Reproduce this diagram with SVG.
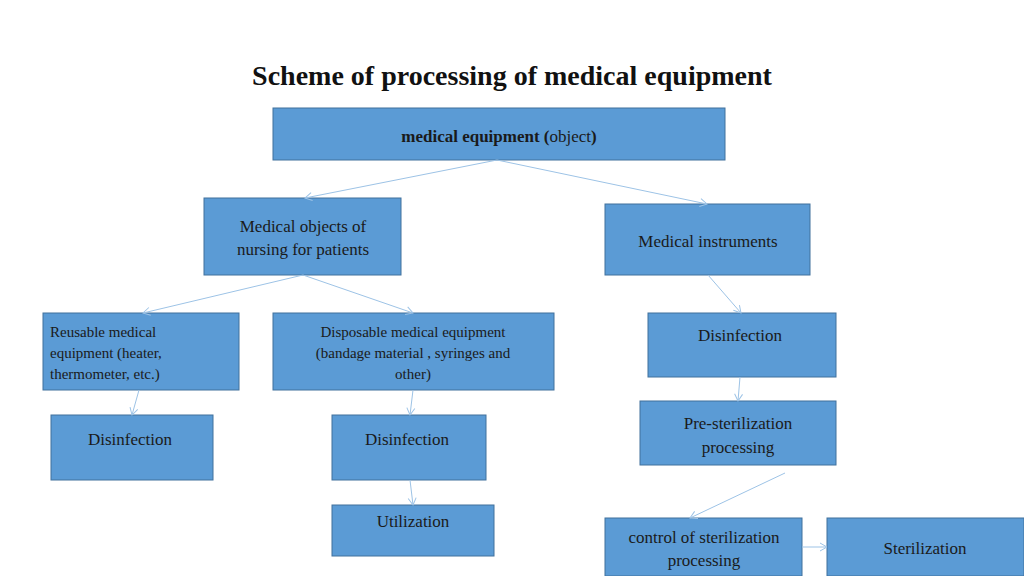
<svg xmlns="http://www.w3.org/2000/svg" width="1024" height="576" viewBox="0 0 1024 576">
<style>
.b{fill:#5b9bd5;stroke:#41719c;stroke-width:1}
.t{font-family:"Liberation Serif",serif;font-size:17px;fill:#1a1a1a;text-anchor:middle}
.s{font-family:"Liberation Serif",serif;font-size:15px;fill:#1a1a1a}
.c line{stroke:#9dc3e6;stroke-width:1;marker-end:url(#a)}
</style>
<defs><marker id="a" markerWidth="10" markerHeight="10" refX="8" refY="5" orient="auto" markerUnits="userSpaceOnUse"><path d="M1,1 L8,5 L1,9" fill="none" stroke="#9dc3e6"/></marker></defs>
<rect width="1024" height="576" fill="#fff"/>
<text x="512" y="85" font-family="Liberation Serif,serif" font-size="28" font-weight="bold" text-anchor="middle" fill="#111">Scheme of processing of medical equipment</text>
<g id="n0"><rect class="b" x="273" y="108" width="452" height="52"/><text class="t" x="499" y="142"><tspan font-weight="bold">medical equipment (</tspan>object<tspan font-weight="bold">)</tspan></text></g>
<g id="n1"><rect class="b" x="204" y="198" width="197" height="77"/><text class="t" x="303" y="232">Medical objects of</text><text class="t" x="303" y="255">nursing  for patients</text></g>
<g id="n2"><rect class="b" x="605" y="204" width="205" height="71"/><text class="t" x="708" y="247">Medical instruments</text></g>
<g id="n3"><rect class="b" x="43" y="313" width="196" height="77"/><text class="s" x="50" y="337">Reusable medical</text><text class="s" x="50" y="358">equipment (heater,</text><text class="s" x="50" y="379">thermometer, etc.)</text></g>
<g id="n4"><rect class="b" x="273" y="313" width="281" height="77"/><text class="s" x="413" y="337" text-anchor="middle">Disposable medical  equipment</text><text class="s" x="413" y="358" text-anchor="middle">(bandage material , syringes and</text><text class="s" x="413" y="379" text-anchor="middle">other)</text></g>
<g id="n5"><rect class="b" x="648" y="313" width="188" height="64"/><text class="t" x="740" y="341">Disinfection</text></g>
<g id="n6"><rect class="b" x="51" y="415" width="162" height="65"/><text class="t" x="130" y="445">Disinfection</text></g>
<g id="n7"><rect class="b" x="332" y="415" width="154" height="65"/><text class="t" x="407" y="445">Disinfection</text></g>
<g id="n8"><rect class="b" x="640" y="401" width="196" height="64"/><text class="t" x="738" y="429">Pre-sterilization</text><text class="t" x="738" y="453">processing</text></g>
<g id="n9"><rect class="b" x="332" y="505" width="162" height="51"/><text class="t" x="413" y="527">Utilization</text></g>
<g id="n10"><rect class="b" x="605" y="518" width="197" height="58"/><text class="t" x="704" y="543">control of sterilization</text><text class="t" x="704" y="566">processing</text></g>
<g id="n11"><rect class="b" x="827" y="518" width="197" height="58"/><text class="t" x="925" y="554">Sterilization</text></g>
<g class="c">
<line x1="497" y1="160" x2="305" y2="198"/><line x1="497" y1="160" x2="707" y2="204"/>
<line x1="303" y1="275" x2="143" y2="313"/><line x1="303" y1="275" x2="413" y2="313"/>
<line x1="708" y1="275" x2="741" y2="313"/><line x1="740" y1="377" x2="738" y2="401"/>
<line x1="139" y1="390" x2="132" y2="415"/><line x1="413" y1="390" x2="410" y2="415"/>
<line x1="410" y1="480" x2="413" y2="505"/><line x1="785" y1="473" x2="690" y2="518"/>
<line x1="802" y1="547" x2="827" y2="547"/>
</g>
</svg>
